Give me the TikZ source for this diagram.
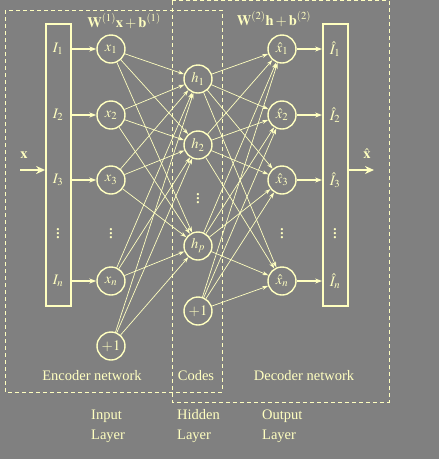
\documentclass[tikz,border=0pt]{standalone}
\usepackage{mathptmx}
\usepackage{fontspec}
\setmainfont{Liberation Serif}
\usetikzlibrary{arrows.meta}
\definecolor{bg}{RGB}{128,128,128}
\definecolor{ink}{RGB}{255,255,192}
\begin{document}
\begin{tikzpicture}[x=1pt,y=-1pt,
  every node/.style={text=ink, font=\fontsize{14.5}{20}\selectfont},
  unit/.style={circle, draw=ink, line width=1.4pt, minimum size=28pt, inner sep=0pt},
  bar/.style={draw=ink, line width=1.8pt, minimum width=25pt, minimum height=282pt, inner sep=0pt},
  conn/.style={draw=ink, line width=0.7pt, -{Stealth[length=6pt,width=4pt]}},
  feed/.style={draw=ink, line width=1.1pt, -{Stealth[length=7pt,width=5pt]}},
  big/.style={draw=ink, line width=2.2pt, -{Stealth[length=9pt,width=8pt]}},
  region/.style={draw=ink, line width=0.9pt, dash pattern=on 4pt off 3pt},
  dotsv/.style={font=\fontsize{19}{20}\selectfont, inner sep=0pt},
  lbl/.style={align=left, inner sep=0pt}]
\fill[bg] (0,0) rectangle (439,459);
\useasboundingbox (0,0) rectangle (439,459);
% dashed regions
\draw[region] (5,10) rectangle (222,392);
\draw[region] (172,0.8) rectangle (389,402);
% input / output bars
\node[bar] (inbox) at (58.5,165) {};
\node[bar] (outbox) at (335.5,165) {};
\node (I1) at (58,49) {$I_1$};
\node (I2) at (58,115) {$I_2$};
\node (I3) at (58,180) {$I_3$};
\node[dotsv] (Id) at (58,231) {$\vdots$};
\node (In) at (58,281) {$I_n$};
\node (O1) at (335,49) {$\hat{I}_1$};
\node (O2) at (335,115) {$\hat{I}_2$};
\node (O3) at (335,180) {$\hat{I}_3$};
\node[dotsv] (Od) at (335,231) {$\vdots$};
\node (On) at (335,281) {$\hat{I}_n$};
% input layer
\node[unit] (x1) at (111,49) {$x_1$};
\node[unit] (x2) at (111,115) {$x_2$};
\node[unit] (x3) at (111,180) {$x_3$};
\node[dotsv] (xd) at (111,231) {$\vdots$};
\node[unit] (xn) at (111,281) {$x_n$};
\node[unit] (b1) at (111,346) {$+1$};
% hidden layer
\node[unit] (h1) at (198,79) {$h_1$};
\node[unit] (h2) at (198,145) {$h_2$};
\node[dotsv] (hd) at (198,196) {$\vdots$};
\node[unit] (hp) at (198,246) {$h_p$};
\node[unit] (b2) at (198,311) {$+1$};
% output layer
\node[unit] (y1) at (282,49) {$\hat{x}_1$};
\node[unit] (y2) at (282,115) {$\hat{x}_2$};
\node[unit] (y3) at (282,180) {$\hat{x}_3$};
\node[dotsv] (yd) at (282,231) {$\vdots$};
\node[unit] (yn) at (282,281) {$\hat{x}_n$};
% feeds
\foreach \n in {1,2,3,n}{
  \draw[feed] (x\n -| inbox.east) -- (x\n);
  \draw[feed] (y\n) -- (y\n -| outbox.west);
}
% weights
\foreach \s in {x1,x2,x3,xn,b1}{
  \foreach \t in {h1,h2,hp}{ \draw[conn] (\s) -- (\t); }
}
\foreach \s in {h1,h2,hp,b2}{
  \foreach \t in {y1,y2,y3,yn}{ \draw[conn] (\s) -- (\t); }
}
% big in/out arrows
\coordinate (xin) at (20,170);
\coordinate (xout) at (374,170);
\draw[big] (xin) -- (xin -| inbox.west);
\draw[big] (xin -| outbox.east) -- (xout);
\node (xlab) at (24,155) {$\mathbf{x}$};
\node (xhlab) at (367,154) {$\hat{\mathbf{x}}$};
% formulas
\node (f1) at (124,21) {$\mathbf{W}^{(1)}\mathbf{x}+\mathbf{b}^{(1)}$};
\node (f2) at (274,19) {$\mathbf{W}^{(2)}\mathbf{h}+\mathbf{b}^{(2)}$};
% region labels
\node (enc) at (92,376) {Encoder network};
\node (cod) at (196,376) {Codes};
\node (dec) at (304,376) {Decoder network};
\node[lbl, anchor=west] (inl) at (91,426) {Input\\Layer};
\node[lbl, anchor=west] (hil) at (177,426) {Hidden\\Layer};
\node[lbl, anchor=west] (oul) at (262,426) {Output\\Layer};
\end{tikzpicture}
\end{document}
